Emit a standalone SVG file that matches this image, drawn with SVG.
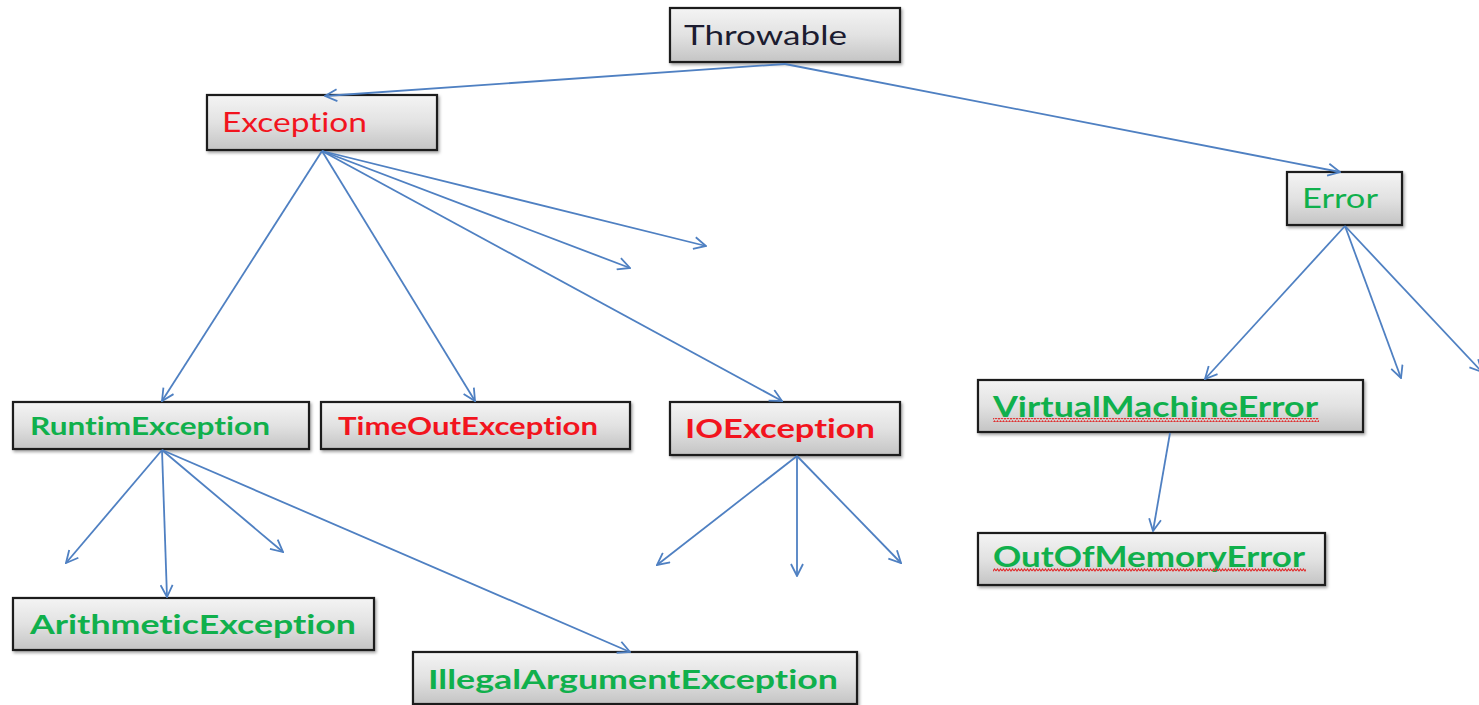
<svg xmlns="http://www.w3.org/2000/svg" width="1479" height="705" viewBox="0 0 1479 705">
  <style>
    .box { fill: url(#boxFill); stroke: #1a1a1a; stroke-width: 2.2; filter: url(#shadow); }
    .reg { font-family: Lato, "Open Sans", "Liberation Sans", sans-serif; font-weight: 400; font-variant-ligatures: none; }
    .bold { font-family: Lato, "Open Sans", "Liberation Sans", sans-serif; font-weight: 700; font-variant-ligatures: none; }
    .green { fill: #10b04c; }
    .red { fill: #f2141e; }
    .dark { fill: #1c1c30; }
    .edge { fill: none; stroke: #4f80c2; stroke-width: 1.8; marker-end: url(#arrow); }
  </style>
  <defs>
    <linearGradient id="boxFill" x1="0" y1="0" x2="0" y2="1">
      <stop offset="0" stop-color="#f4f4f4"/>
      <stop offset="0.5" stop-color="#e2e2e2"/>
      <stop offset="1" stop-color="#c4c4c4"/>
    </linearGradient>
    <filter id="shadow" x="-5%" y="-10%" width="110%" height="130%">
      <feDropShadow dx="1.5" dy="2" stdDeviation="1.5" flood-color="#000" flood-opacity="0.35"/>
    </filter>
    <marker id="arrow" viewBox="0 0 14 14" refX="13" refY="7" markerWidth="14" markerHeight="14" markerUnits="userSpaceOnUse" orient="auto">
      <path d="M1,1 L13,7 L1,13" fill="none" stroke="#4f80c2" stroke-width="1.8"/>
    </marker>
    <pattern id="wave" width="6" height="4" patternUnits="userSpaceOnUse">
      <path d="M0,3 L1.5,1 L3,3 L4.5,1 L6,3" fill="none" stroke="#e03030" stroke-width="1.2"/>
    </pattern>
  </defs>

  <rect width="1479" height="705" fill="#ffffff"/>

  <g id="throwable">
    <rect class="box" x="670" y="8" width="230" height="54"/>
    <text class="reg dark" x="684" y="45" font-size="27" textLength="163" lengthAdjust="spacingAndGlyphs">Throwable</text>
  </g>

  <g id="exception">
    <rect class="box" x="207" y="95" width="230" height="55"/>
    <text class="reg red" x="222" y="132" font-size="27" textLength="145" lengthAdjust="spacingAndGlyphs">Exception</text>
  </g>

  <g id="error">
    <rect class="box" x="1287" y="172" width="115" height="53"/>
    <text class="reg green" x="1302" y="208" font-size="27" textLength="76" lengthAdjust="spacingAndGlyphs">Error</text>
  </g>

  <g id="runtime-exception">
    <rect class="box" x="13" y="402" width="296" height="47"/>
    <text class="bold green" x="30" y="435" font-size="24" textLength="240" lengthAdjust="spacingAndGlyphs">RuntimException</text>
  </g>

  <g id="timeout-exception">
    <rect class="box" x="321" y="402" width="309" height="47"/>
    <text class="bold red" x="338" y="435" font-size="24" textLength="260" lengthAdjust="spacingAndGlyphs">TimeOutException</text>
  </g>

  <g id="io-exception">
    <rect class="box" x="670" y="402" width="230" height="53"/>
    <text class="bold red" x="685" y="438" font-size="26" textLength="190" lengthAdjust="spacingAndGlyphs">IOException</text>
  </g>

  <g id="virtual-machine-error">
    <rect class="box" x="978" y="380" width="385" height="52"/>
    <text class="bold green" x="993" y="417" font-size="28" textLength="325" lengthAdjust="spacingAndGlyphs">VirtualMachineError</text>
    <rect x="993" y="418" width="326" height="4" fill="url(#wave)"/>
  </g>

  <g id="out-of-memory-error">
    <rect class="box" x="978" y="533" width="347" height="52"/>
    <text class="bold green" x="993" y="567" font-size="28" textLength="312" lengthAdjust="spacingAndGlyphs">OutOfMemoryError</text>
    <rect x="993" y="568" width="313" height="4" fill="url(#wave)"/>
  </g>

  <g id="arithmetic-exception">
    <rect class="box" x="13" y="598" width="361" height="52"/>
    <text class="bold green" x="30" y="634" font-size="27" textLength="326" lengthAdjust="spacingAndGlyphs">ArithmeticException</text>
  </g>

  <g id="illegal-argument-exception">
    <rect class="box" x="413" y="652" width="444" height="52"/>
    <text class="bold green" x="428" y="689" font-size="27" textLength="410" lengthAdjust="spacingAndGlyphs">IllegalArgumentException</text>
  </g>

  <g id="connectors">
    <!-- Throwable -->
    <path class="edge" d="M785,64 L325,96"/>
    <path class="edge" d="M785,64 L1340,172"/>
    <!-- Exception -->
    <path class="edge" d="M322,151 L162,401"/>
    <path class="edge" d="M322,151 L475,401"/>
    <path class="edge" d="M322,151 L782,401"/>
    <path class="edge" d="M322,151 L630,268"/>
    <path class="edge" d="M322,151 L706,246"/>
    <!-- Error -->
    <path class="edge" d="M1345,226 L1205,379"/>
    <path class="edge" d="M1345,226 L1401,378"/>
    <path class="edge" d="M1345,226 L1482,372"/>
    <!-- RuntimException -->
    <path class="edge" d="M162,450 L66,563"/>
    <path class="edge" d="M162,450 L167,597"/>
    <path class="edge" d="M162,450 L283,552"/>
    <path class="edge" d="M162,450 L630,652"/>
    <!-- IOException -->
    <path class="edge" d="M797,456 L657,565"/>
    <path class="edge" d="M797,456 L797,576"/>
    <path class="edge" d="M797,456 L901,563"/>
    <!-- VirtualMachineError -->
    <path class="edge" d="M1170,433 L1153,531"/>
  </g>
</svg>
